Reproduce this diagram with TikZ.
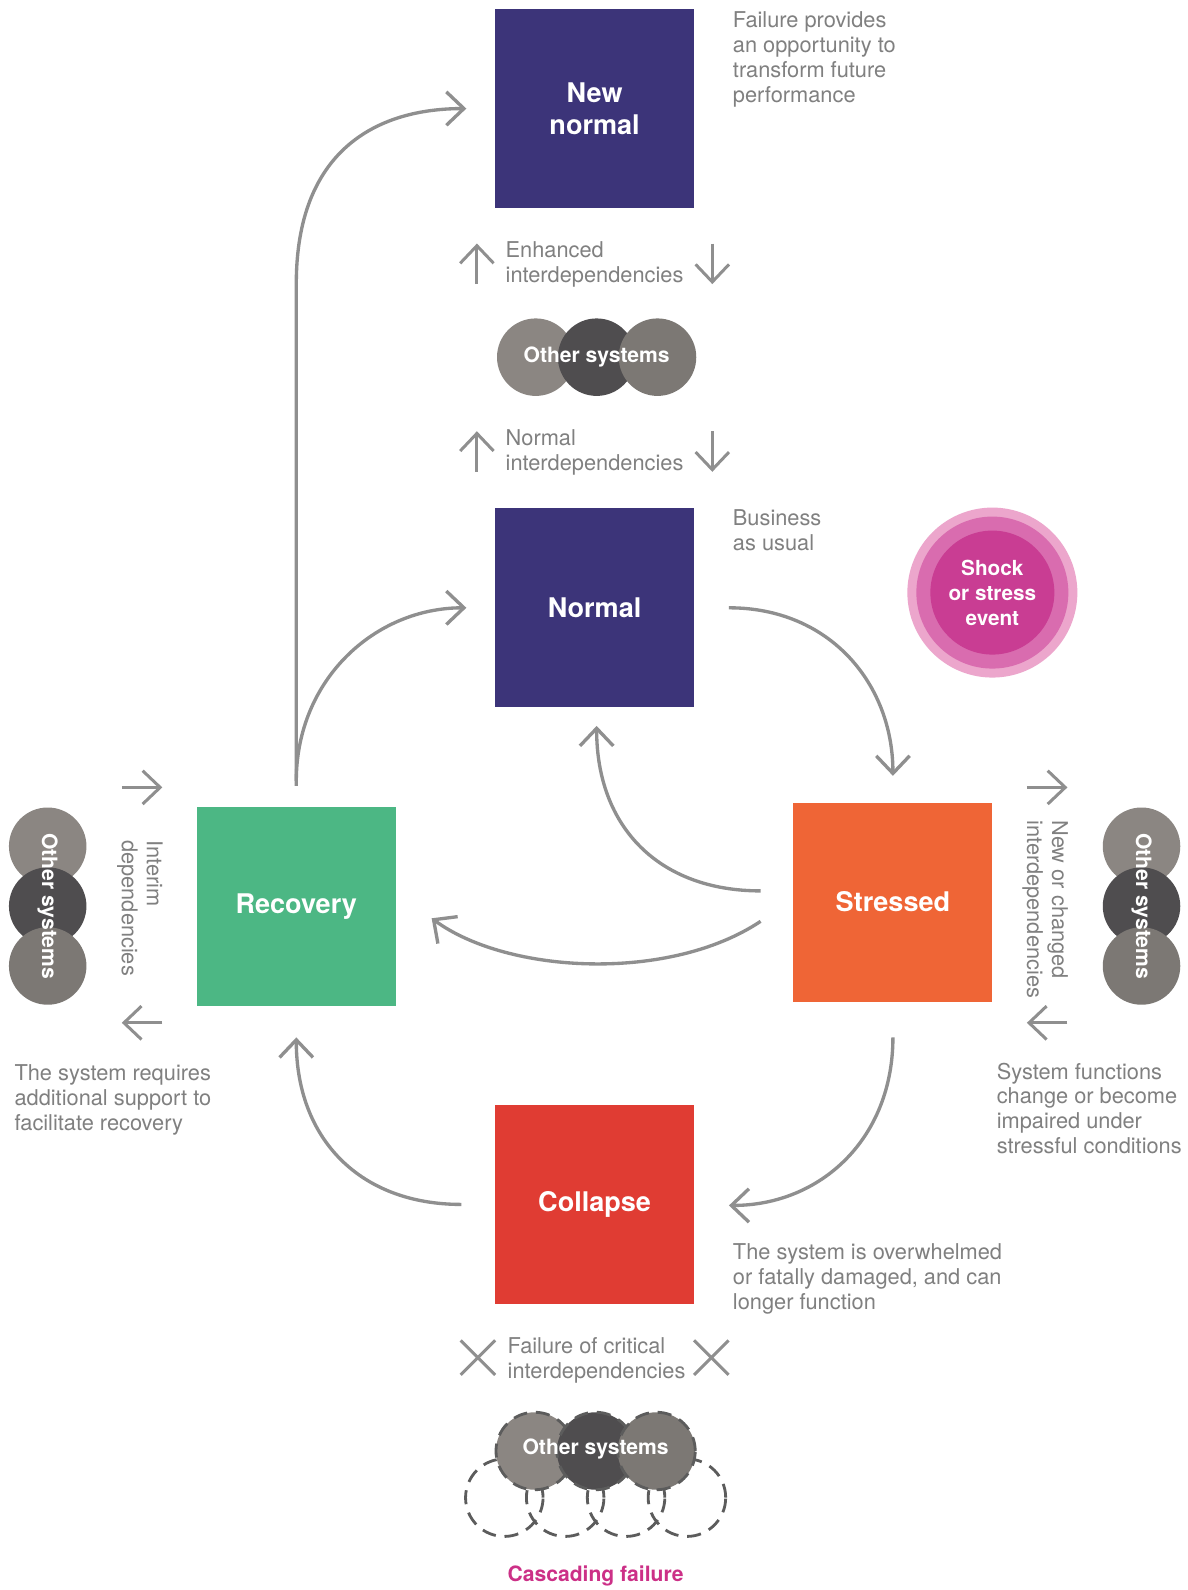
\documentclass[tikz,border=0pt]{standalone}
\usepackage{fontspec}
\setmainfont{TeX Gyre Heros}
\usetikzlibrary{arrows.meta,calc}
\definecolor{boxblue}{HTML}{3C3479}
\definecolor{boxgreen}{HTML}{4CB784}
\definecolor{boxorange}{HTML}{EF6536}
\definecolor{boxred}{HTML}{E03C33}
\definecolor{linegray}{HTML}{8F8F8F}
\definecolor{notegray}{HTML}{808080}
\definecolor{sysl}{HTML}{8B8682}
\definecolor{sysd}{HTML}{4F4D4F}
\definecolor{sysr}{HTML}{7C7874}
\definecolor{dashgray}{HTML}{5C5C5C}
\definecolor{shockout}{HTML}{ECA6CC}
\definecolor{shockmid}{HTML}{D96CAF}
\definecolor{shockin}{HTML}{C93D93}
\definecolor{cascade}{HTML}{CC3087}

\tikzset{
  statebox/.style={minimum size=3.98cm, inner sep=0pt, text=white, align=center,
    font=\fontsize{15.4}{18.2}\selectfont\bfseries},
  flow/.style={draw=linegray, line width=1.9pt, -{Straight Barb[length=10pt,width=19pt]}},
  tick/.style={draw=linegray, line width=1.7pt, -{Straight Barb[length=10pt,width=19pt]}},
  note/.style={text=notegray, font=\fontsize{12.4}{14.2}\selectfont, align=left, inner sep=0pt},
  systext/.style={text=white, font=\fontsize{12}{14.2}\selectfont\bfseries, inner sep=0pt},
  lost/.style={draw=dashgray, line width=1.6pt, dash pattern=on 8pt off 5pt},
}

\begin{document}
\begin{tikzpicture}[x=0.02029cm, y=-0.02029cm]
\def\disc{circle (0.775cm)}
\useasboundingbox (0,0) rectangle (1170,1567);
\fill[white] (0,0) rectangle (1170,1567);

% the five states
\node[statebox, fill=boxblue] (newnorm) at (586,107) {New\\normal};
\node[statebox, fill=boxblue] (norm) at (586,599) {Normal};
\node[statebox, fill=boxgreen] (recov) at (292,893) {Recovery};
\node[statebox, fill=boxorange] (stress) at (880,889) {Stressed};
\node[statebox, fill=boxred] (collap) at (586,1187) {Collapse};

% shock
\fill[shockout] (978,584) circle (1.7cm);
\fill[shockmid] (978,584) circle (1.52cm);
\fill[shockin] (978,584) circle (1.24cm);
\node[systext, align=center, font=\fontsize{11.8}{14.2}\selectfont\bfseries] (shock) at (978,584) {Shock\\or stress\\event};

% cycle
\draw[flow] ($(recov.north)+(0,-20)$) -- ($(recov.north)+(0,-515)$)
  .. controls +(0,-130) and +(-90,0) .. ($(newnorm.west)+(-28,0)$);
\draw[flow] ($(recov.north)+(0,-25)$)
  .. controls +(0,-100) and +(-90,0) .. ($(norm.west)+(-28,0)$);
\draw[flow] ($(norm.east)+(34,0)$)
  .. controls +(100,0) and +(0,-90) .. ($(stress.north)+(0,-26)$);
\draw[flow] ($(stress.west)+(-32,-11)$)
  .. controls +(-100,0) and +(0,100) .. ($(norm.south)+(2,18)$);
\draw[flow] ($(stress.west)+(-32,19)$)
  .. controls +(-90,60) and +(75,55) .. ($(recov.east)+(35,12)$);
\draw[flow] ($(stress.south)+(0,35)$)
  .. controls +(0,100) and +(90,0) .. ($(collap.east)+(34,1)$);
\draw[flow] ($(collap.west)+(-33,0)$)
  .. controls +(-100,0) and +(0,100) .. ($(recov.south)+(0,31)$);

% other systems, top
\fill[sysl] (528,352) \disc;
\fill[sysd] (588,352) \disc;
\fill[sysr] (648,352) \disc;
\node[systext] (topsys) at (588,352) {Other systems};

% other systems, left and right
\foreach \cx/\nm in {47/leftsys,1125/rightsys}{
  \fill[sysl] (\cx,834) \disc;
  \fill[sysd] (\cx,893) \disc;
  \fill[sysr] (\cx,952) \disc;
  \node[systext, rotate=-90] (\nm) at (\cx,893) {Other systems};
}

% other systems, bottom (failing)
\foreach \cx in {497,557,617,677} \draw[lost] (\cx,1476) \disc;
\filldraw[lost, fill=sysl] (527,1430) \disc;
\filldraw[lost, fill=sysd] (587,1430) \disc;
\filldraw[lost, fill=sysr] (647,1430) \disc;
\node[systext] (botsys) at (587,1428) {Other systems};
\node[systext, text=cascade] (casc) at (587,1553) {Cascading failure};

% interdependencies
\node[note, anchor=north west] (enh) at (498,238) {Enhanced\\interdependencies};
\draw[tick] (470,280) -- (470,240);
\draw[tick] (702,240) -- (702,280);
\node[note, anchor=north west] (nrm) at (498,423) {Normal\\interdependencies};
\draw[tick] (470,465) -- (470,425);
\draw[tick] (702,425) -- (702,465);
\node[note, rotate=-90] (interim) at (138,895) {Interim\\dependencies};
\draw[tick] (120,776) -- (160,776);
\draw[tick] (160,1008) -- (120,1008);
\node[note, rotate=-90] (changed) at (1030,896) {New or changed\\interdependencies};
\draw[tick] (1012,776) -- (1052,776);
\draw[tick] (1052,1008) -- (1012,1008);
\node[note, anchor=north west] (fail) at (500,1318) {Failure of critical\\interdependencies};
\foreach \cx in {471,701}
  \draw[linegray, line width=1.7pt] (\cx-17,1321) -- (\cx+17,1355) (\cx-17,1355) -- (\cx+17,1321);

% notes
\node[note, anchor=north west] (opp) at (722,11) {Failure provides\\an opportunity to\\transform future\\performance};
\node[note, anchor=north west] (bau) at (722,502) {Business\\as usual};
\node[note, anchor=north west] (impair) at (982,1047) {System functions\\change or become\\impaired under\\stressful conditions};
\node[note, anchor=north west] (support) at (14,1049) {The system requires\\additional support to\\facilitate recovery};
\node[note, anchor=north west] (over) at (722,1225) {The system is overwhelmed\\or fatally damaged, and can\\longer function};
\end{tikzpicture}
\end{document}
